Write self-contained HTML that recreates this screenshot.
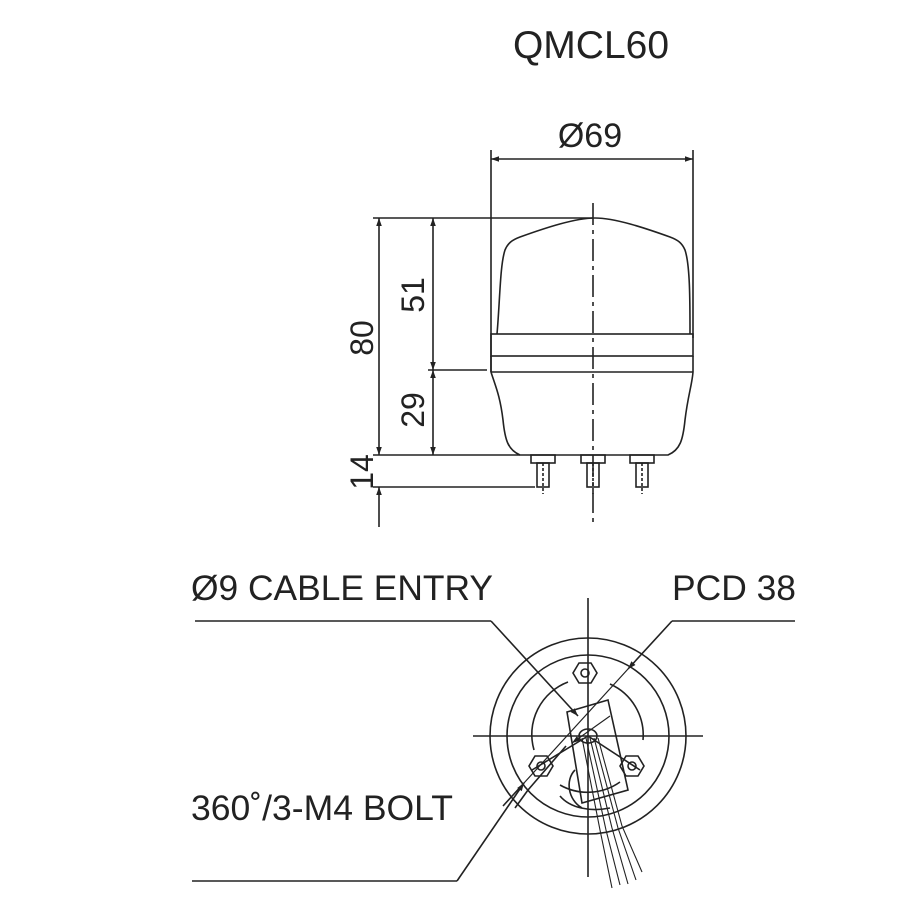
<!DOCTYPE html>
<html><head><meta charset="utf-8"><style>
html,body{margin:0;padding:0;background:#fff;}
svg{display:block;}
text{font-family:"Liberation Sans",Arial,sans-serif;fill:#222;}
</style></head><body>
<svg width="900" height="900" viewBox="0 0 900 900" xmlns="http://www.w3.org/2000/svg">
<defs>
<marker id="a" viewBox="0 0 10 10" refX="10" refY="5" markerWidth="13" markerHeight="8" orient="auto-start-reverse" markerUnits="userSpaceOnUse"><path d="M0,1.5 L10,5 L0,8.5 z" fill="#222"/></marker>
</defs>
<g stroke="#222" fill="none" stroke-width="1.6">
<text x="591" y="58" font-size="39" text-anchor="middle" stroke="none">QMCL60</text>
<text x="590" y="147" font-size="34" text-anchor="middle" stroke="none">Ø69</text>
<!-- Ø69 dim -->
<line x1="491" y1="150" x2="491" y2="372"/>
<line x1="693" y1="150" x2="693" y2="338"/>
<line x1="491" y1="159" x2="693" y2="159" marker-start="url(#a)" marker-end="url(#a)"/>
<!-- body -->
<path d="M497,334 C500,300 500,265 505,250 C508,243 512,240 520,237 C545,228 575,218 595,218 C615,218 645,228 670,237 C678,240 682,243 685,250 C690,265 690,300 690,334"/>
<rect x="491" y="334" width="202" height="22"/>
<line x1="491" y1="372" x2="693" y2="372"/>
<path d="M491,356 L491,372 C495,385 500,395 503,420 C505,440 508,450 520,455 L668,455 C680,450 683,440 685,420 C688,395 692,385 693,372 L693,356"/>
<!-- centerline -->
<line x1="593" y1="203" x2="593" y2="522" stroke-dasharray="22,5,4,5"/>
<!-- dims -->
<line x1="373" y1="218" x2="593" y2="218"/>
<line x1="373" y1="455" x2="520" y2="455"/>
<line x1="373" y1="487" x2="535" y2="487"/>
<line x1="428" y1="370" x2="487" y2="370"/>
<line x1="379" y1="218" x2="379" y2="455" marker-start="url(#a)" marker-end="url(#a)"/>
<line x1="379" y1="527" x2="379" y2="487" marker-end="url(#a)"/>
<line x1="433" y1="218" x2="433" y2="370" marker-start="url(#a)" marker-end="url(#a)"/>
<line x1="433" y1="370" x2="433" y2="455" marker-start="url(#a)" marker-end="url(#a)"/>
<text transform="translate(373,338) rotate(-90)" font-size="32" text-anchor="middle" stroke="none">80</text>
<text transform="translate(424,295) rotate(-90)" font-size="32" text-anchor="middle" stroke="none">51</text>
<text transform="translate(424,410) rotate(-90)" font-size="32" text-anchor="middle" stroke="none">29</text>
<text transform="translate(373,472) rotate(-90)" font-size="32" text-anchor="middle" stroke="none">14</text>
<!-- bolts -->
<g id="b">
<rect x="531" y="455" width="24" height="8"/>
<rect x="537" y="463" width="12" height="24"/>
<line x1="543" y1="463" x2="543" y2="494" stroke-dasharray="3,2"/>
</g>
<use href="#b" x="50"/>
<use href="#b" x="99"/>
<!-- bottom view -->
<circle cx="588" cy="736" r="98"/>
<circle cx="588" cy="736" r="81"/>
<path d="M568,682 A56,56 0 0 0 534,750"/>
<path d="M610,684 A56,56 0 0 1 643,740"/>
<path d="M560,785 A56,56 0 0 0 620,782"/>
<line x1="473" y1="736" x2="703" y2="736"/>
<line x1="588" y1="598" x2="588" y2="877"/>
<g id="n"><polygon points="579,663 591,663 597,673 591,683 579,683 573,673"/><circle cx="585" cy="673" r="4"/></g>
<use href="#n" x="-44" y="93"/>
<use href="#n" x="47" y="93"/>
<polygon points="567,712 608,700 628,790 582,803"/>
<ellipse cx="588" cy="736" rx="9" ry="7"/>
<path d="M582,738 L600,830 L612,888 M586,738 L606,830 L620,885 M590,738 L612,828 L628,884 M594,738 L618,828 L636,880 M598,738 L622,826 L642,872" stroke-width="1.1"/>
<path d="M575,770 C565,780 568,800 582,808 M560,796 C570,808 590,812 610,808"/>
<line x1="588" y1="736" x2="532" y2="770"/>
<line x1="588" y1="736" x2="640" y2="770"/>
<!-- leaders -->
<line x1="195" y1="621" x2="491" y2="621"/>
<line x1="491" y1="621" x2="578" y2="716" marker-end="url(#a)"/>
<line x1="672" y1="621" x2="795" y2="621"/>
<line x1="672" y1="621" x2="628" y2="669" marker-end="url(#a)"/>
<line x1="628" y1="669" x2="524" y2="783" stroke-width="1.2"/>
<line x1="524" y1="783" x2="503" y2="806"/>
<line x1="566" y1="746" x2="528" y2="790" />
<line x1="528" y1="790" x2="515" y2="808"/>
<line x1="192" y1="881" x2="457" y2="881"/>
<line x1="457" y1="881" x2="524" y2="783" marker-end="url(#a)"/>
<line x1="610" y1="716" x2="572" y2="743" marker-end="url(#a)" stroke-width="1.1"/>
<text x="191" y="600" font-size="35" stroke="none" textLength="302" lengthAdjust="spacingAndGlyphs">Ø9 CABLE ENTRY</text>
<text x="672" y="600" font-size="35" stroke="none" textLength="124" lengthAdjust="spacingAndGlyphs">PCD 38</text>
<text x="191" y="820" font-size="35" stroke="none" textLength="262" lengthAdjust="spacingAndGlyphs">360˚/3-M4 BOLT</text>
</g>
</svg>
</body></html>
